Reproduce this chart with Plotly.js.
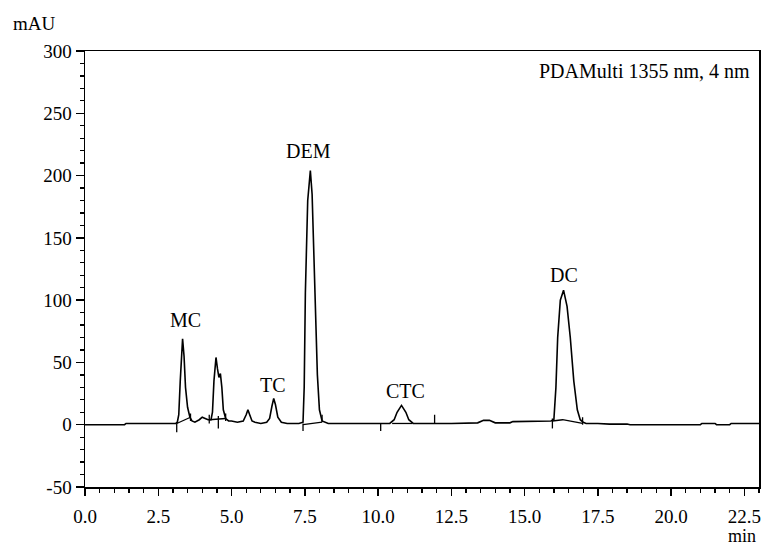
<!DOCTYPE html>
<html>
<head>
<meta charset="utf-8">
<script src="https://cdn.plot.ly/plotly-3.0.1.min.js"></script>
<style>html,body{margin:0;padding:0;background:#fff;}#chart{width:761px;height:549px;}</style>
</head>
<body>
<div id="chart"></div>
<script>
// Chromatogram signal (min, mAU)
const timeMin = [0,1.35,1.4,2.0,2.05,2.6,2.65,3.1,3.15,3.2,3.25,3.3,3.33,3.38,3.43,3.5,3.58,3.65,3.75,3.9,4.0,4.1,4.2,4.3,4.35,4.4,4.47,4.52,4.57,4.62,4.67,4.72,4.8,4.9,5.0,5.2,5.4,5.5,5.56,5.62,5.7,5.8,6.0,6.2,6.3,6.38,6.44,6.5,6.58,6.7,6.9,7.3,7.44,7.48,7.52,7.6,7.69,7.75,7.84,7.93,8.0,8.09,8.3,9.0,10.0,10.4,10.55,10.65,10.8,10.95,11.05,11.2,12.5,13.4,13.6,13.8,14.0,14.5,14.6,15.4,15.5,15.9,16.0,16.07,16.13,16.22,16.33,16.45,16.56,16.68,16.8,16.9,17.0,17.1,17.5,17.9,18.5,18.6,21.0,21.05,21.5,21.55,22.0,22.05,23.0];
const signalMAU = [0,0,1,1,0.5,0.5,1,1,2,8,35,66,69,55,30,14,6,3,2,4,6,5,4,4,10,35,54,45,38,41,30,12,5,3,3,2,3,8,12,8,3,2,1,2,5,15,21,16,6,2,1,1,2,30,106,180,204,185,106,40,12,3,1,1,1,1,4,10,15.5,10,4,1,1,1.5,3.5,3.5,1.5,1.5,2.5,2.5,3,3,4,30,70,100,108,95,70,35,12,4,2,1,1,0.5,0.5,0,0,1,1,0,0,1,1];

// Integration baselines (segments separated by null)
const baseTime = [3.13,3.6,null,4.24,4.8,null,7.44,8.09,null,10.48,11.17,null,15.95,16.3,16.98];
const baseMAU  = [1,6,null,4,5,null,0,2,null,1,1,null,3,4,1];

// Peak start/end markers (vertical ticks)
const markTime = [3.13,3.13,null,3.6,3.6,null,4.24,4.24,null,4.55,4.55,null,4.8,4.8,null,7.44,7.44,null,8.09,8.09,null,10.09,10.09,null,11.93,11.93,null,15.95,15.95,null,16.98,16.98];
const markMAU  = [1,-6,null,3,9,null,1,8,null,7,-3,null,3,9,null,1,-5,null,2,8,null,1,-5,null,1,8,null,5,-3,null,0,6];

// Peak labels
const peakNames = ['MC','TC','DEM','CTC','DC'];
const peakLabelX = [3.44,6.41,7.64,10.94,16.34];
const peakLabelY = [84,32,219.5,26.7,120.5];

const xTickVals = [0,2.5,5,7.5,10,12.5,15,17.5,20,22.5];
const xTickText = ['0.0','2.5','5.0','7.5','10.0','12.5','15.0','17.5','20.0','22.5'];
const yTickVals = [-50,0,50,100,150,200,250,300];
const yTickText = ['-50','0','50','100','150','200','250','300'];

const font = 'Liberation Serif';

const traces = [
  {x: timeMin, y: signalMAU, type:'scatter', mode:'lines', line:{color:'#000', width:1.6}, hoverinfo:'skip'},
  {x: baseTime, y: baseMAU, type:'scatter', mode:'lines', line:{color:'#000', width:1.3}, connectgaps:false, hoverinfo:'skip'},
  {x: markTime, y: markMAU, type:'scatter', mode:'lines', line:{color:'#000', width:1.3}, connectgaps:false, hoverinfo:'skip'}
];

const annotations = peakNames.map((n,i)=>({
  x: peakLabelX[i], y: peakLabelY[i], xref:'x', yref:'y', text:n, showarrow:false,
  font:{family:font, size:20, color:'#000'}
}));
annotations.push({xref:'paper', yref:'paper', x:0.99, y:0.985, xanchor:'right', yanchor:'top', text:'PDAMulti 1355 nm, 4 nm', showarrow:false, font:{family:font, size:20, color:'#000'}});
annotations.push({xref:'paper', yref:'paper', x:-0.11, y:1.035, xanchor:'left', yanchor:'bottom', text:'mAU', showarrow:false, font:{family:font, size:19, color:'#000'}});
annotations.push({xref:'paper', yref:'paper', x:0.998, y:-0.14, xanchor:'right', yanchor:'bottom', text:'min', showarrow:false, font:{family:font, size:18, color:'#000'}});

const layout = {
  width:761, height:549,
  margin:{l:85, r:2, t:51, b:62},
  paper_bgcolor:'#fff', plot_bgcolor:'#fff',
  showlegend:false,
  font:{family:font, size:19, color:'#000'},
  xaxis:{
    range:[0,23], showgrid:false, zeroline:false,
    showline:true, linecolor:'#000', linewidth:1.5, mirror:true,
    tickmode:'array', tickvals:xTickVals, ticktext:xTickText,
    ticks:'outside', ticklen:7, tickwidth:1.5, tickcolor:'#000',
    ticklabelstandoff:5,
    minor:{dtick:0.5, ticks:'outside', ticklen:4, tickwidth:1.3, tickcolor:'#000'},
    tickfont:{family:font, size:19, color:'#000'}
  },
  yaxis:{
    range:[-50,300], showgrid:false, zeroline:false,
    showline:true, linecolor:'#000', linewidth:1.5, mirror:true,
    tickmode:'array', tickvals:yTickVals, ticktext:yTickText,
    ticks:'outside', ticklen:8, tickwidth:1.5, tickcolor:'#000',
    minor:{dtick:10, ticks:'outside', ticklen:4, tickwidth:1.3, tickcolor:'#000'},
    tickfont:{family:font, size:19, color:'#000'}
  },
  annotations: annotations
};

Plotly.newPlot('chart', traces, layout, {staticPlot:true, displayModeBar:false});
</script>
</body>
</html>
